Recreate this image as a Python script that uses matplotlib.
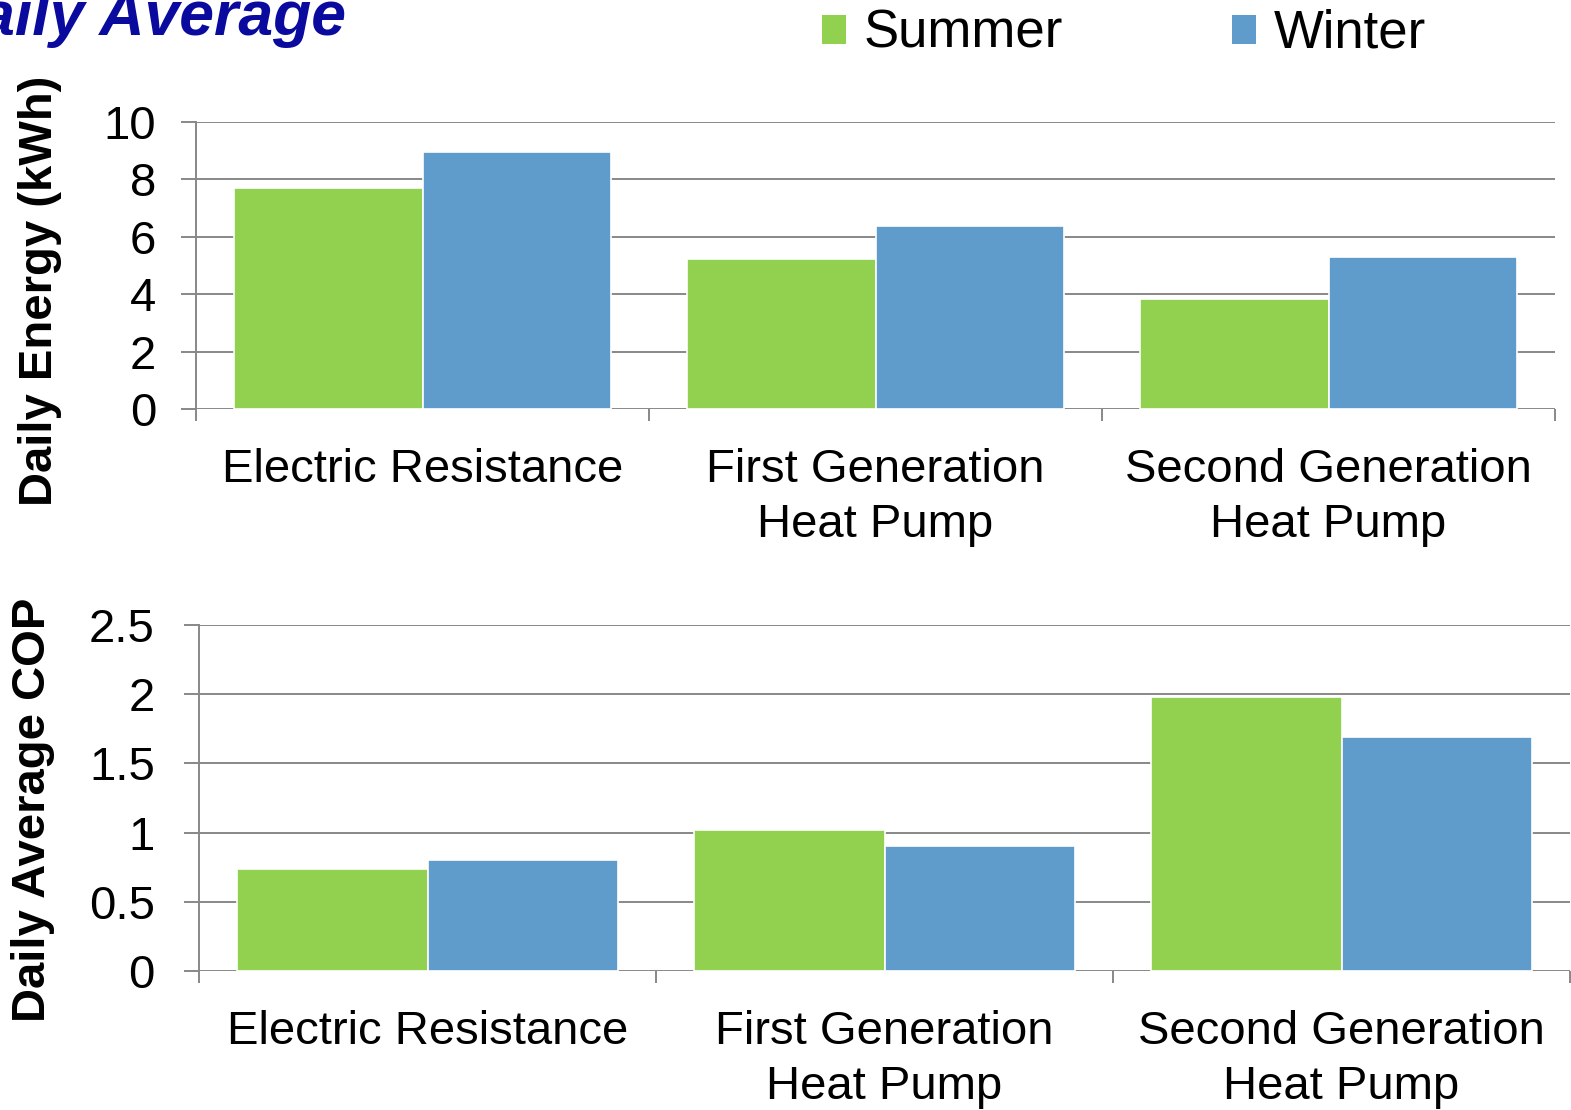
import matplotlib
matplotlib.use("Agg")
import matplotlib.pyplot as plt
import numpy as np
from matplotlib.patches import Patch

plt.rcParams['font.family'] = ['Liberation Sans', 'DejaVu Sans']

categories = ["Electric Resistance", "First Generation\nHeat Pump", "Second Generation\nHeat Pump"]
series_names = ["Summer", "Winter"]
energy_summer = [7.70, 5.23, 3.83]
energy_winter = [8.95, 6.38, 5.30]
cop_summer = [0.74, 1.02, 1.98]
cop_winter = [0.80, 0.90, 1.69]
energy_ticks = [0, 2, 4, 6, 8, 10]
energy_ticklabels = ["0", "2", "4", "6", "8", "10"]
cop_ticks = [0, 0.5, 1, 1.5, 2, 2.5]
cop_ticklabels = ["0", "0.5", "1", "1.5", "2", "2.5"]

GREEN = "#92D050"
BLUE = "#5F9BCB"
GRID = "#888888"
TITLE_COLOR = "#0A0A9E"

W, H = 1571, 1110
fig = plt.figure(figsize=(W / 100, H / 100), dpi=100)

def px_axes(l, r, t, b):
    return fig.add_axes([l / W, 1 - b / H, (r - l) / W, (b - t) / H])

def style(ax, ticks, ticklabels, ymax, ylabel_pad):
    x = np.arange(len(categories))
    ax.set_xlim(-0.5, len(categories) - 0.5)
    ax.set_ylim(0, ymax)
    ax.set_yticks(ticks)
    ax.set_yticklabels(ticklabels)
    ax.set_xticks(x)
    ax.set_xticklabels(categories, linespacing=1.33)
    ax.set_xticks(np.arange(len(categories) + 1) - 0.5, minor=True)
    ax.tick_params(axis='x', which='major', length=0, pad=28, labelsize=34)
    ax.tick_params(axis='x', which='minor', length=8.6, width=1.4, color=GRID)
    ax.tick_params(axis='y', which='major', length=10.8, width=1.4, color=GRID,
                   pad=ylabel_pad, labelsize=34)
    for s in ['top', 'right', 'bottom']:
        ax.spines[s].set_visible(False)
    ax.spines['left'].set_color(GRID)
    ax.spines['left'].set_linewidth(1.4)
    ax.grid(axis='y', color=GRID, linewidth=1.4)
    ax.set_axisbelow(True)

def bars(ax, s, w):
    x = np.arange(len(categories))
    bw = 0.417
    ax.bar(x - bw / 2, s, bw, color=GREEN, edgecolor='white', linewidth=1.2, zorder=3)
    ax.bar(x + bw / 2, w, bw, color=BLUE, edgecolor='white', linewidth=1.2, zorder=3)

ax1 = px_axes(196, 1555, 122, 409)
bars(ax1, energy_summer, energy_winter)
style(ax1, energy_ticks, energy_ticklabels, 10, 18)

ax2 = px_axes(199, 1570, 625, 971)
bars(ax2, cop_summer, cop_winter)
style(ax2, cop_ticks, cop_ticklabels, 2.5, 21)

fig.text(40 / W, 1 - 291 / H, "Daily Energy (kWh)", rotation=90, ha='center', va='center',
         fontsize=34, fontweight='bold')
fig.text(33 / W, 1 - 810 / H, "Daily Average COP", rotation=90, ha='center', va='center',
         fontsize=34, fontweight='bold')

fig.text(346 / W, 1 - 35 / H, "Daily Average", ha='right', va='baseline', fontsize=45,
         fontweight='bold', fontstyle='italic', color=TITLE_COLOR)

handles = [Patch(facecolor=GREEN, edgecolor='none'), Patch(facecolor=BLUE, edgecolor='none')]
fig.legend(handles, series_names, loc='center left', bbox_to_anchor=(822 / W, 1 - 34 / H),
           ncol=2, frameon=False, fontsize=38, handlelength=0.46, handleheight=0.46,
           handletextpad=0.33, columnspacing=3.2, borderpad=0, borderaxespad=0)

fig.savefig("out.png", dpi=100)
